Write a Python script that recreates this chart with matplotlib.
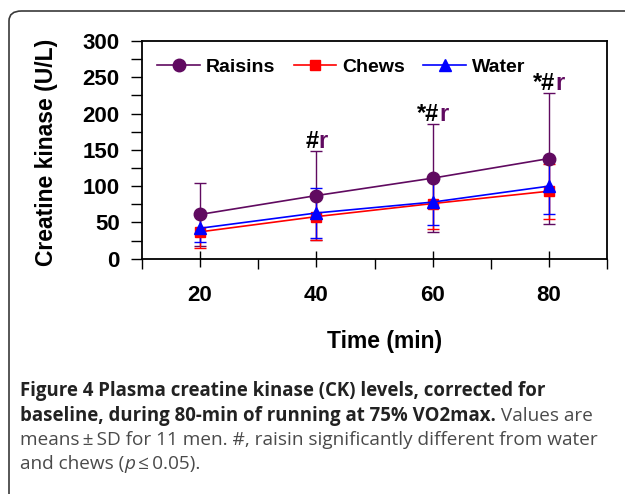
import matplotlib
matplotlib.use("Agg")
import matplotlib.pyplot as plt
from matplotlib.patches import FancyBboxPatch
from matplotlib.lines import Line2D
from matplotlib.ticker import MultipleLocator, FixedLocator

times = [20, 40, 60, 80]
raisins = [61, 87, 111, 138]
raisins_sd = [43, 61, 74, 90]
chews = [37, 58, 76, 93]
chews_sd = [22, 32, 35, 38]
water = [42, 63, 78, 100]
water_sd = [19, 35, 31, 39]
annotations = ["", "#r", "*#r", "*#r"]

PURPLE = "#600a60"
RED = "#ff0000"
BLUE = "#0000ff"

plt.rcParams['font.family'] = ['Liberation Sans', 'DejaVu Sans']

fig = plt.figure(figsize=(6.25, 4.94), dpi=100)
W, H = 625, 494

# outer rounded frame
box = FancyBboxPatch((9 / W, -0.2), 1.2, (494 - 11) / H + 0.2,
                     boxstyle="round,pad=0,rounding_size=0.02",
                     transform=fig.transFigure, fill=False,
                     edgecolor="#3a3a3a", linewidth=1.2)
fig.patches.append(box)

ax = fig.add_axes([142 / W, 1 - 258.7 / H, (607 - 142) / W, (258.7 - 41) / H])

eb_kw = dict(capsize=4, elinewidth=1.0, capthick=1.0, fmt="none")
ax.errorbar(times, raisins, yerr=raisins_sd, ecolor=PURPLE, zorder=2, **eb_kw)
ax.errorbar(times, chews, yerr=chews_sd, ecolor=RED, zorder=3, **eb_kw)
ax.errorbar(times, water, yerr=water_sd, ecolor=BLUE, zorder=4, **eb_kw)

ax.plot(times, chews, color=RED, marker="s", markersize=7.5, linewidth=1.2,
        zorder=5)
ax.plot(times, water, color=BLUE, marker="^", markersize=9, linewidth=1.2,
        zorder=6)
ax.plot(times, raisins, color=PURPLE, marker="o", markersize=9, linewidth=1.2,
        zorder=7)

ax.set_xlim(10, 90)
ax.set_ylim(0, 300)
ax.xaxis.set_major_locator(FixedLocator(times))
ax.xaxis.set_minor_locator(FixedLocator([10, 30, 50, 70, 90]))
ax.yaxis.set_major_locator(MultipleLocator(50))
ax.yaxis.set_minor_locator(MultipleLocator(25))

for s in ax.spines.values():
    s.set_linewidth(1.3)
    s.set_color("black")

ax.tick_params(axis="x", which="major", direction="inout", length=12, width=1,
               pad=13, labelsize=16)
ax.tick_params(axis="x", which="minor", direction="out", length=7, width=1)
ax.tick_params(axis="y", which="major", direction="out", length=8, width=1,
               pad=8, labelsize=16)
ax.tick_params(axis="y", which="minor", direction="out", length=8, width=1)
for lbl in ax.get_xticklabels() + ax.get_yticklabels():
    lbl.set_fontweight("bold")

fig.text(385 / W, 1 - 341 / H, "Time (min)", fontsize=16.5, fontweight="bold",
         ha="center", va="center")
fig.text(47 / W, 1 - 152 / H, "Creatine kinase (U/L)", fontsize=16.5,
         fontweight="bold", ha="center", va="center", rotation=90)

handles = [
    Line2D([], [], color=PURPLE, marker="o", markersize=9, linewidth=1.2),
    Line2D([], [], color=RED, marker="s", markersize=7.5, linewidth=1.2),
    Line2D([], [], color=BLUE, marker="^", markersize=9, linewidth=1.2),
]
leg = ax.legend(handles, ["Raisins", "Chews", "Water"], loc="upper left",
                bbox_to_anchor=(-0.005, 1.0), ncol=3, frameon=False,
                handlelength=2.2, handletextpad=0.3, columnspacing=0.95,
                prop={"weight": "bold", "size": 14})

# significance annotations: black symbols + purple 'r'
fig.canvas.draw()
renderer = fig.canvas.get_renderer()
for t, v, sd, a in zip(times, raisins, raisins_sd, annotations):
    if not a:
        continue
    sym = a[:-1]
    x_disp, y_disp = ax.transData.transform((t, v + sd))
    tfull = fig.text(0, 0, a, fontsize=17, fontweight="bold")
    wfull = tfull.get_window_extent(renderer).width
    tfull.remove()
    t1 = fig.text(0, 0, sym, fontsize=17, fontweight="bold", color="black",
                  ha="left", va="bottom")
    t2 = fig.text(0, 0, "r", fontsize=17, fontweight="bold", color=PURPLE,
                  ha="left", va="bottom")
    w2 = t2.get_window_extent(renderer).width
    w1 = wfull - w2
    x0 = x_disp - wfull / 2
    y0 = y_disp - 2
    t1.set_position((x0 / W, y0 / H))
    t2.set_position(((x0 + w1) / W, y0 / H))

# caption
bold_size = 13.4
reg_size = 13.7
cap_color = "#222222"
reg_color = "#4a4a4a"
cap_font = ['Open Sans', 'DejaVu Sans']
x_start = 20
lines_y = [391, 416, 440, 464]

def put(x, y, s, size, **kw):
    t = fig.text(x / W, 1 - y / H, s, fontsize=size, family=cap_font,
                 va="center", ha="left", **kw)
    return t

put(x_start, lines_y[0], "Figure 4 Plasma creatine kinase (CK) levels, corrected for",
    bold_size, fontweight="bold", color=cap_color)
tb = put(x_start, lines_y[1], "baseline, during 80-min of running at 75% VO2max.",
         bold_size, fontweight="bold", color=cap_color)
fig.canvas.draw()
wb = tb.get_window_extent(renderer).width
put(x_start + wb, lines_y[1], " Values are", reg_size, color=reg_color)
put(x_start, lines_y[2],
    "means\u2009\u00b1\u2009SD for 11 men. #, raisin significantly different from water",
    reg_size, color=reg_color)
ta = put(x_start, lines_y[3], "and chews (", reg_size, color=reg_color)
fig.canvas.draw()
wa = ta.get_window_extent(renderer).width
tp = put(x_start + wa, lines_y[3], "p", reg_size, color=reg_color, style="italic")
fig.canvas.draw()
wp = tp.get_window_extent(renderer).width
put(x_start + wa + wp, lines_y[3], "\u2009\u2264\u20090.05).", reg_size,
    color=reg_color)

fig.savefig("out.png", dpi=100)
